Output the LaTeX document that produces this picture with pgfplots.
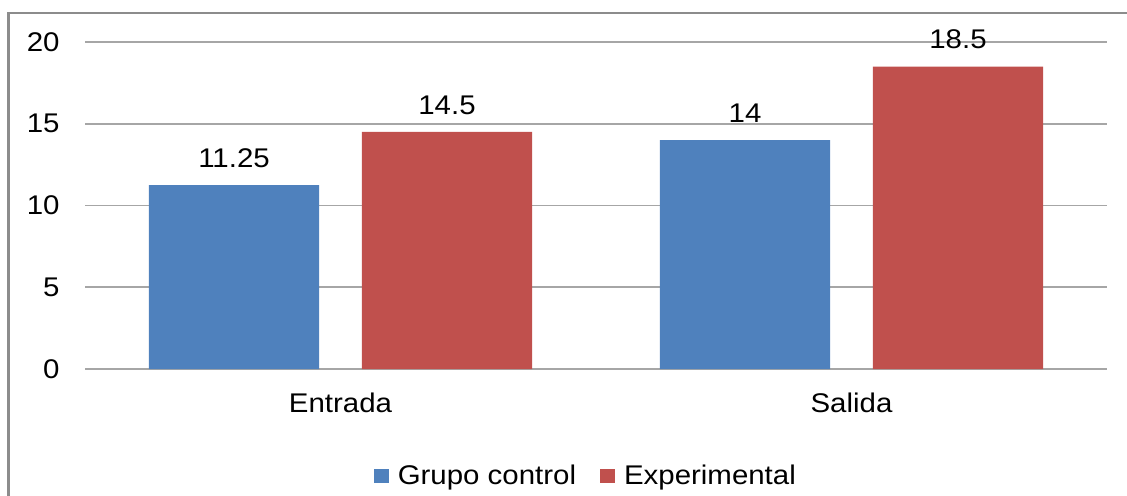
\documentclass[border=0pt]{standalone}
\usepackage{fontspec}
\setmainfont{Liberation Sans}[FakeStretch=1.09]
\usepackage{pgfplots}
\pgfplotsset{compat=1.18}

\definecolor{barblue}{HTML}{4F81BD}
\definecolor{barred}{HTML}{C0504D}
\definecolor{gridgray}{HTML}{A6A6A6}
\definecolor{framegray}{HTML}{8C8C8C}

\begin{document}
\begin{tikzpicture}
% canvas: 1px = 0.5pt
\path[use as bounding box] (0,0) rectangle (563.5pt,247.5pt);
\draw[framegray, line width=1.2pt] (4.3pt,-2pt) -- (4.3pt,241pt) -- (566pt,241pt);
\begin{axis}[
    at={(42.5pt,63pt)}, anchor=south west,
    scale only axis, width=511pt, height=163.5pt,
    font=\fontsize{13.5}{16}\selectfont,
    /pgf/number format/assume math mode=true,
    ybar, bar width=0.333,
    xmin=-0.5, xmax=1.5,
    ymin=0, ymax=20,
    ytick={0,5,10,15,20},
    xtick={0,1}, xticklabels={Entrada,Salida},
    axis line style={draw=none},
    major tick length=0pt,
    ymajorgrids, grid style={gridgray, line width=0.9pt},
    yticklabel style={anchor=east, inner sep=0pt, xshift=-12.5pt},
    xticklabel style={anchor=north, inner sep=0pt, yshift=-12pt},
    nodes near coords,
    every node near coord/.append style={anchor=south, inner sep=0pt, yshift=8.5pt, black},
    legend columns=2,
    legend style={draw=none, fill=none, at={(0.491,-0.327)}, anchor=center,
        font=\fontsize{13.5}{16}\selectfont,
        /tikz/every odd column/.append style={column sep=2.5pt},
        /tikz/every even column/.append style={column sep=10pt},
        inner sep=0pt},
    legend image code/.code={\fill[#1] (0pt,-3.5pt) rectangle (7.5pt,3.5pt);},
]
\addplot[draw=none, fill=barblue, bar shift=-0.2084] coordinates {(0,11.25) (1,14)};
\addplot[draw=none, fill=barred, bar shift=0.2084] coordinates {(0,14.5) (1,18.5)};
\legend{Grupo control, Experimental}
\end{axis}
\end{tikzpicture}
\end{document}
